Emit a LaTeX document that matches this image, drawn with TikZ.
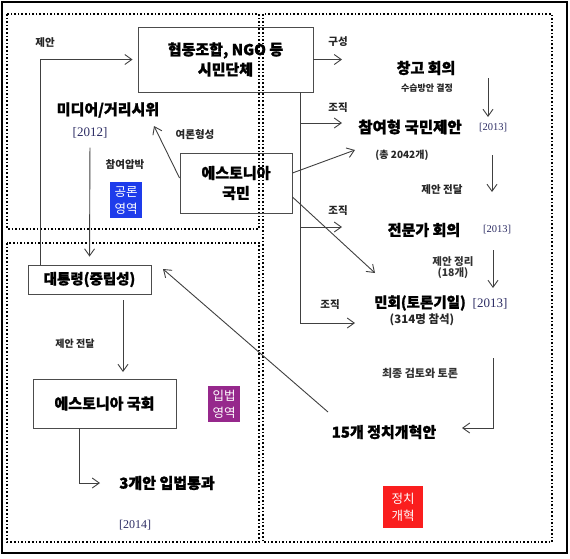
\documentclass[tikz,border=0pt]{standalone}
\usepackage{fontspec}
\setmainfont{Noto Sans CJK KR}
\newfontfamily\heavy{Noto Sans CJK KR}[BoldFeatures={FakeBold=1.3}]
\newfontfamily\yearfont{Liberation Serif}
\usetikzlibrary{arrows.meta}

\definecolor{yearnavy}{RGB}{45,45,100}
\definecolor{forumblue}{RGB}{30,60,235}
\definecolor{lawpurple}{RGB}{150,40,140}
\definecolor{reformred}{RGB}{250,30,30}

\begin{document}
\begin{tikzpicture}[x=1pt,y=-1pt,
    area/.style={dotted,line width=1.6pt},
    box/.style={draw=black!70,line width=0.9pt,align=center,inner sep=0pt},
    title/.style={font=\heavy\bfseries\fontsize{15}{20}\selectfont,align=center,inner sep=0pt},
    note/.style={font=\bfseries\fontsize{10.5}{13}\selectfont,text=black!85,align=center,inner sep=0pt},
    year/.style={font=\yearfont\fontsize{12}{14}\selectfont,text=yearnavy,inner sep=0pt},
    badge/.style={fill=#1,text=white,font=\fontsize{12.5}{17}\selectfont,align=center,
        minimum width=32pt,minimum height=36pt,inner sep=0pt},
    arr/.style={draw=black!75,line width=0.9pt,-{Straight Barb[length=7pt,width=10pt]}},
    wire/.style={draw=black!75,line width=0.9pt}]

    \useasboundingbox (0,0) rectangle (570,558);

    % frame and areas
    \draw[line width=2.5pt] (2,2) rectangle (567,553);
    \draw[area] (7,14) rectangle (259,229);
    \draw[area] (7,243) rectangle (259,542);
    \draw[area] (263,14) rectangle (552,542);

    % public sphere
    \node[box,title,minimum width=175pt,minimum height=65pt] (ngo) at (225.5,59.5) {협동조합, NGO 등\\시민단체};
    \node[title] (media) at (108,110) {미디어/거리시위};
    \node[year,font=\yearfont\fontsize{13}{15}\selectfont] (y2012) at (90,133) {[2012]};
    \node[box,title,minimum width=112pt,minimum height=60pt] (people) at (236,183) {에스토니아\\국민};
    \node[note] at (45,43) {제안};
    \node[note] at (195,135) {여론형성};
    \node[note] at (125,165) {참여압박};
    \node[badge=forumblue] (forum) at (126,200) {공론\\영역};

    % legislative sphere
    \node[box,title,font=\heavy\bfseries\fontsize{14.5}{18}\selectfont,minimum width=123pt,minimum height=29pt] (president) at (89.5,279.5) {대통령(중립성)};
    \node[box,title,minimum width=143pt,minimum height=49pt] (assembly) at (104.5,403.5) {에스토니아 국회};
    \node[title] (pass) at (167,483) {3개안 입법통과};
    \node[year] (y2014) at (135,525) {[2014]};
    \node[note,font=\bfseries\fontsize{10}{12}\selectfont] at (75,344) {제안 전달};
    \node[badge=lawpurple] (law) at (224,404) {입법\\영역};

    % political reform
    \node[title] (conf) at (426,68) {창고 회의};
    \node[note,font=\bfseries\fontsize{9}{11}\selectfont] at (427,88) {수습방안 결정};
    \node[title,font=\heavy\bfseries\fontsize{15.5}{20}\selectfont] (proposal) at (410,127) {참여형 국민제안};
    \node[year,font=\yearfont\fontsize{10.5}{12}\selectfont] at (493,128) {[2013]};
    \node[note,font=\bfseries\fontsize{10}{12}\selectfont] at (402,155) {(총 2042개)};
    \node[title] (expert) at (424,230) {전문가 회의};
    \node[year,font=\yearfont\fontsize{10.5}{12}\selectfont] at (497,230) {[2013]};
    \node[title,font=\heavy\bfseries\fontsize{14.5}{18}\selectfont] (assemblyday) at (420,303) {민회(토론기일)};
    \node[year,font=\yearfont\fontsize{13}{15}\selectfont] at (490,304) {[2013]};
    \node[note,font=\bfseries\fontsize{11.5}{13}\selectfont] at (422,320) {(314명 참석)};
    \node[title] (reform) at (384,432) {15개 정치개혁안};
    \node[badge=reformred,minimum width=40pt,minimum height=42pt] (reformbadge) at (403,507) {정치\\개혁};

    \node[note] at (338,42) {구성};
    \node[note] at (338,108) {조직};
    \node[note] at (338,211) {조직};
    \node[note] at (330,305) {조직};
    \node[note] at (442,190) {제안 전달};
    \node[note,text=black!80] at (453,268) {제안 정리\\[-2pt](18개)};
    \node[note,font=\bfseries\fontsize{11}{13}\selectfont,text=black!80] at (420,373) {최종 검토와 토론};

    % connectors
    \coordinate (propose) at (40,265);
    \draw[arr,shorten >=5pt] (propose) |- (ngo.west);
    \coordinate (opinion) at (154,126);
    \draw[arr] ([yshift=5pt]people.west) -- (opinion);
    \draw[arr,shorten <=9pt,shorten >=8pt] (y2012.south) -- (president.north);

    \coordinate (trunk) at (300,323);
    \draw[wire] (ngo.south -| trunk) -- (trunk);
    \coordinate (compose) at (342,59.5);
    \coordinate (org1) at (342,123);
    \coordinate (org2) at (342,227);
    \coordinate (org3) at (355,323);
    \draw[arr] (ngo.east) -- (compose);
    \draw[arr] (trunk |- org1) -- (org1);
    \draw[arr] (trunk |- org2) -- (org2);
    \draw[arr] (trunk) -- (org3);

    \coordinate (topropose) at (355,150);
    \coordinate (toforum) at (375,273);
    \draw[arr] ([yshift=10pt]people.east) -- (topropose);
    \draw[arr] ([yshift=-14pt]people.east) -- (toforum);

    \coordinate (s1) at (488,78);
    \coordinate (e1) at (488,117);
    \coordinate (s2) at (492,155);
    \coordinate (e2) at (492,192);
    \coordinate (s3) at (493,250);
    \coordinate (e3) at (493,288);
    \draw[arr] (s1) -- (e1);
    \draw[arr] (s2) -- (e2);
    \draw[arr] (s3) -- (e3);

    \coordinate (review) at (493,358);
    \coordinate (toreform) at (462,428);
    \draw[arr] (review) |- (toreform);

    \coordinate (reformout) at (328,412);
    \coordinate (topresident) at (163,269);
    \draw[arr] (reformout) -- (topresident);

    \coordinate (pdown) at (123,300);
    \coordinate (pend) at (123,372);
    \draw[arr] (pdown) -- (pend);
    \coordinate (drop) at (79,428);
    \coordinate (topass) at (100,483);
    \draw[arr] (drop) |- (topass);
\end{tikzpicture}
\end{document}
